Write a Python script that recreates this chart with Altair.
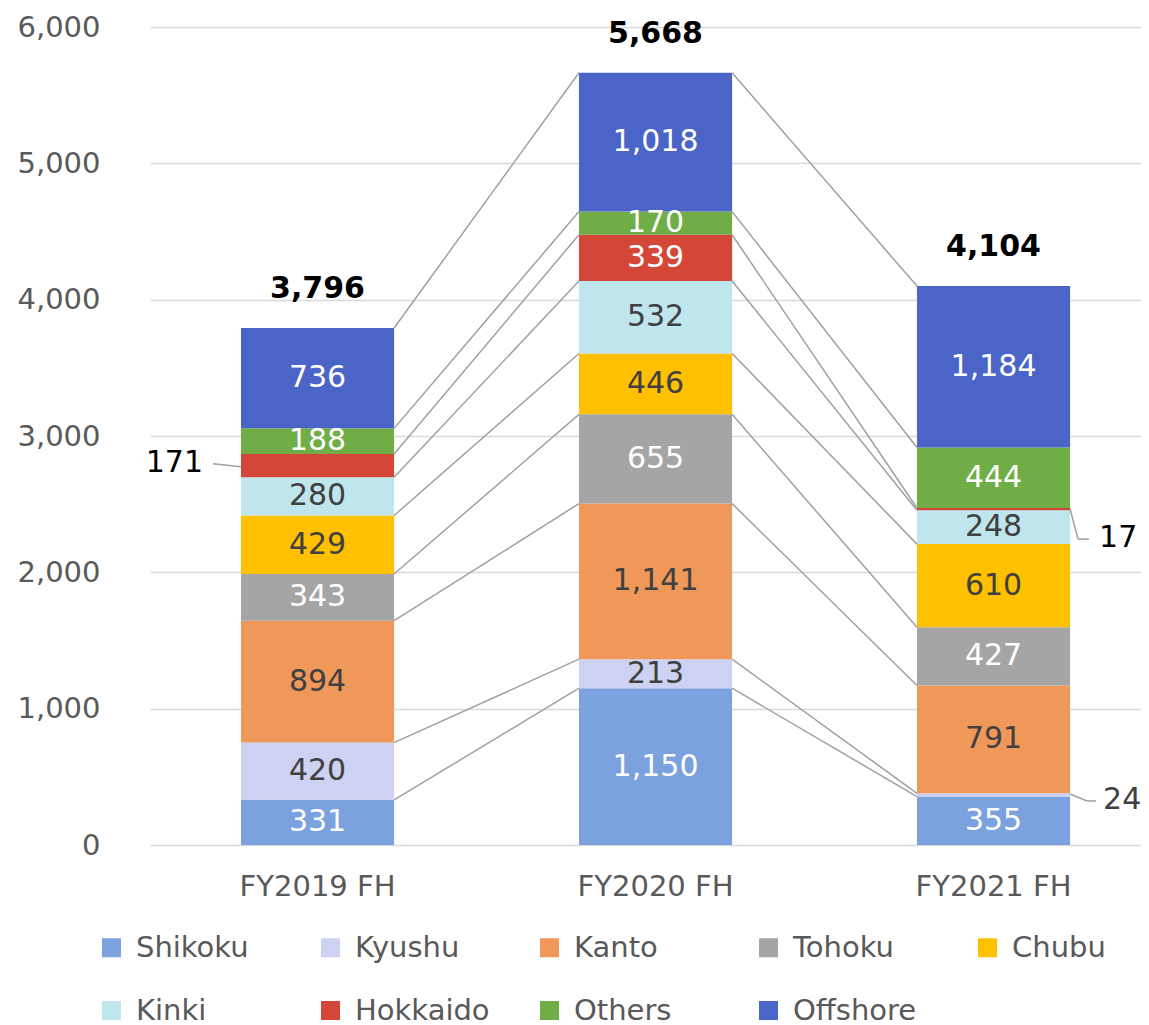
import altair as alt
import pandas as pd

categories = ["FY2019 FH", "FY2020 FH", "FY2021 FH"]
series = ["Shikoku", "Kyushu", "Kanto", "Tohoku", "Chubu", "Kinki", "Hokkaido", "Others", "Offshore"]
colors = ["#7BA1DE", "#CDD1F2", "#F0975A", "#A5A5A5", "#FFC000", "#BEE6EC", "#D44637", "#70AD47", "#4A64C8"]
label_colors = ["#FFFFFF", "#404040", "#404040", "#FFFFFF", "#404040", "#404040", "#FFFFFF", "#FFFFFF", "#FFFFFF"]
fy2019 = [331, 420, 894, 343, 429, 280, 171, 188, 736]
fy2020 = [1150, 213, 1141, 655, 446, 532, 339, 170, 1018]
fy2021 = [355, 24, 791, 427, 610, 248, 17, 444, 1184]
totals = [3796, 5668, 4104]
outside = [("FY2019 FH", "Hokkaido"), ("FY2021 FH", "Hokkaido"), ("FY2021 FH", "Kyushu")]
y_ticks = [0, 1000, 2000, 3000, 4000, 5000, 6000]

FONT = "DejaVu Sans"

rows = []
for cat, vals in zip(categories, [fy2019, fy2020, fy2021]):
    cum = 0
    for i, (s, v) in enumerate(zip(series, vals)):
        rows.append(dict(cat=cat, series=s, order=i, value=v, y0=cum, y1=cum + v,
                         mid=cum + v / 2, lab=f"{v:,}", lc=label_colors[i],
                         inside=(cat, s) not in outside))
        cum += v
df = pd.DataFrame(rows)

conn = []
for a, b in zip(categories[:-1], categories[1:]):
    for s in series:
        ya = df[(df.cat == a) & (df.series == s)].y1.iloc[0]
        yb = df[(df.cat == b) & (df.series == s)].y1.iloc[0]
        conn.append(dict(cat=a, nxt=b, series=s, ya=ya, yb=yb))
conn_df = pd.DataFrame(conn)

tot_df = pd.DataFrame(dict(cat=categories, total=totals, lab=[f"{t:,}" for t in totals]))

xscale = alt.Scale(domain=categories, paddingInner=0.547, paddingOuter=0.2395, align=0.562)
yscale = alt.Scale(domain=[0, 6000], nice=False)

x_axis = alt.Axis(labelAngle=0, domain=False, ticks=False, tickSize=0, grid=False,
                  bandPosition=0.5, labelPadding=27, labelFontSize=29, labelColor="#595959",
                  labelFont=FONT)
y_axis = alt.Axis(values=y_ticks, format=",d", domain=False, ticks=False, tickSize=0,
                  labelPadding=50, labelFontSize=29, labelColor="#595959",
                  labelFont=FONT, gridColor="#D9D9D9", gridWidth=1.5)

base = alt.Chart(df)

bars = base.mark_bar().encode(
    x=alt.X("cat:N", scale=xscale, title=None, axis=x_axis),
    y=alt.Y("y0:Q", scale=yscale, title=None, axis=y_axis),
    y2="y1:Q",
    color=alt.Color("series:N", scale=alt.Scale(domain=series, range=colors),
                    legend=alt.Legend(orient="none", legendX=-53, legendY=906, columns=5,
                                      direction="horizontal",
                                      symbolType="square", symbolSize=361, symbolStrokeWidth=0,
                                      labelFontSize=29, labelColor="#595959", labelFont=FONT,
                                      title=None, gridAlign="all", columnPadding=45,
                                      rowPadding=33, labelOffset=10, padding=0, labelLimit=300)),
    order=alt.Order("order:Q"),
)

connectors = alt.Chart(conn_df).mark_rule(color="#A0A0A0", strokeWidth=1.5).encode(
    x=alt.X("cat:N", bandPosition=1, scale=xscale, title=None, axis=x_axis),
    x2=alt.X2("nxt:N", bandPosition=0),
    y=alt.Y("ya:Q", scale=yscale, title=None, axis=y_axis),
    y2="yb:Q",
)

labels = base.transform_filter("datum.inside").mark_text(
    fontSize=30, font=FONT, baseline="middle", align="center").encode(
    x=alt.X("cat:N", scale=xscale, title=None, axis=x_axis),
    y=alt.Y("mid:Q", scale=yscale, title=None, axis=y_axis),
    text="lab:N",
    color=alt.Color("lc:N", scale=None),
)

def outside_label(cat, s, band, dx, dy, align, color):
    d = df[(df.cat == cat) & (df.series == s)]
    return alt.Chart(d).mark_text(fontSize=30, font=FONT, baseline="middle", align=align,
                                  dx=dx, dy=dy, color=color).encode(
        x=alt.X("cat:N", bandPosition=band, scale=xscale, title=None, axis=x_axis),
        y=alt.Y("mid:Q", scale=yscale, title=None, axis=y_axis),
        text="lab:N",
    )

def leader(cat, s, band, xo, x2o, yo, y2o):
    d = df[(df.cat == cat) & (df.series == s)]
    return alt.Chart(d).mark_rule(color="#A0A0A0", strokeWidth=1.5, xOffset=xo, x2Offset=x2o,
                                  yOffset=yo, y2Offset=y2o).encode(
        x=alt.X("cat:N", bandPosition=band, scale=xscale, title=None, axis=x_axis),
        x2=alt.X2("cat:N", bandPosition=band),
        y=alt.Y("mid:Q", scale=yscale, title=None, axis=y_axis),
        y2="mid:Q",
    )

lab171 = outside_label("FY2019 FH", "Hokkaido", 0, -38, -3, "right", "#000000")
lab17 = outside_label("FY2021 FH", "Hokkaido", 1, 29, 29, "left", "#000000")
lab24 = outside_label("FY2021 FH", "Kyushu", 1, 33, 5, "left", "#404040")

lead171 = leader("FY2019 FH", "Hokkaido", 0, 0, -28, 1, -2)
lead17a = leader("FY2021 FH", "Hokkaido", 1, 0, 8, 0, 30)
lead17b = leader("FY2021 FH", "Hokkaido", 1, 8, 19, 30, 30)
lead24a = leader("FY2021 FH", "Kyushu", 1, 0, 17, -1, 6)
lead24b = leader("FY2021 FH", "Kyushu", 1, 17, 26, 6, 6)

totals_layer = alt.Chart(tot_df).mark_text(fontSize=30, font=FONT, fontWeight="bold",
                                           baseline="middle", align="center", dy=-38,
                                           color="#000000").encode(
    x=alt.X("cat:N", scale=xscale, title=None, axis=x_axis),
    y=alt.Y("total:Q", scale=yscale, title=None, axis=y_axis),
    text="lab:N",
)

chart = alt.layer(
    bars, connectors, labels, lab171, lab17, lab24,
    lead171, lead17a, lead17b, lead24a, lead24b, totals_layer
).properties(
    width=991, height=818,
    padding={"left": 142, "top": 19, "right": 0, "bottom": 185},
    autosize=alt.AutoSizeParams(type="none"),
).configure(font=FONT).configure_view(stroke="transparent", strokeWidth=0).configure_axis(
    domain=False, ticks=False)

chart.save("out.html", embed_options={"renderer": "svg", "actions": False})
